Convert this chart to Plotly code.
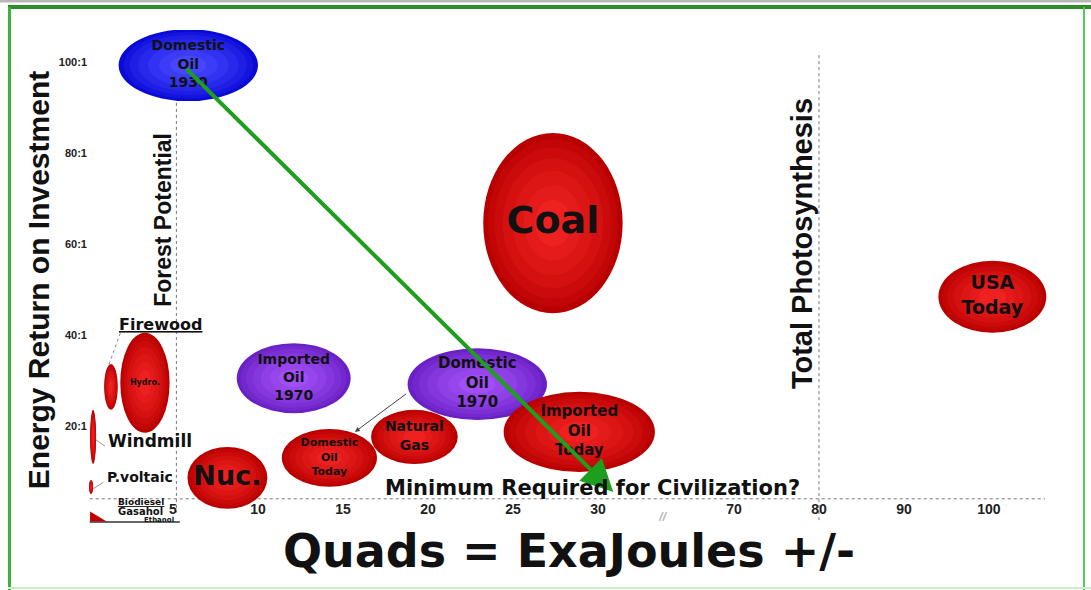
import plotly.graph_objects as go

# ---------------- data ----------------
sources = ["Domestic Oil 1930", "Coal", "USA Today", "Imported Oil 1970", "Domestic Oil 1970",
           "Imported Oil Today", "Natural Gas", "Domestic Oil Today", "Nuc.", "Hydro.",
           "Firewood", "Windmill", "P.voltaic"]
bubble_labels = ["Domestic<br>Oil<br>1930", "Coal", "USA<br>Today", "Imported<br>Oil<br>1970",
                 "Domestic<br>Oil<br>1970", "Imported<br>Oil<br>Today", "Natural<br>Gas",
                 "Domestic<br>Oil<br>Today", "Nuc.", "Hydro.", "", "", ""]
quads = [5.9, 27.35, 100.4, 12.1, 22.9, 28.9, 19.2, 14.2, 8.2, 3.35, 1.35, 0.3, 0.18]
eroi = [99.3, 64.6, 48.4, 30.5, 29.2, 18.7, 17.6, 13.0, 8.6, 29.5, 28.6, 17.6, 6.6]
# bubble extent (axis units: display quads wide, EROI tall)
bubble_w = [8.2, 8.2, 6.35, 6.7, 8.2, 8.9, 5.1, 5.6, 4.7, 2.9, 0.8, 0.35, 0.24]
bubble_h = [15.8, 39.6, 15.8, 15.4, 15.8, 17.6, 11.9, 12.7, 13.6, 22.0, 10.1, 11.9, 3.1]
bubble_group = ["blue", "red", "red", "purple", "purple", "red", "red", "red", "red", "red",
                "red", "red", "red"]

x_tick_quads = [5, 10, 15, 20, 25, 30, 70, 80, 90, 100]
x_tick_text = ["5", "10", "15", "20", "25", "30", "70", "80", "90", "100"]
y_tick_vals = [0, 20, 40, 60, 80, 100]
y_tick_text = ["0:1", "20:1", "40:1", "60:1", "80:1", "100:1"]

min_eroi = 4.0            # Minimum Required for Civilization?
forest_potential = 5.2    # quads
total_photosynthesis = 80 # quads

# ---------------- styles ----------------
label_sizes = [14, 38, 19, 14, 15, 15, 14, 11, 27, 8, 1, 1, 1]
palettes = {
    "red": ((185, 0, 0), (238, 32, 32)),
    "blue": ((10, 10, 215), (70, 70, 255)),
    "purple": ((105, 32, 196), (160, 78, 246)),
}
layer_scale = [1.0, 0.93, 0.84, 0.72, 0.58, 0.42, 0.26]
BOLD = "Liberation Sans"
WIDE = "DejaVu Sans"


def disp(q):
    """Broken x axis: linear up to 30, then 70..100 compressed by half after the break."""
    return q if q <= 30 else 38 + (q - 70) / 2.0


def mix(c0, c1, t):
    return "rgb(%d,%d,%d)" % tuple(round(a + (b - a) * t) for a, b in zip(c0, c1))


fig = go.Figure()
shapes = []

# reference lines (drawn beneath bubbles)
fx = disp(forest_potential)
tx = disp(total_photosynthesis)
line_style = dict(color="#777777", width=1, dash="dot")
shapes.append(dict(type="line", xref="x", yref="y", x0=fx, x1=fx, y0=91, y1=1, line=line_style, layer="below"))
shapes.append(dict(type="line", xref="x", yref="y", x0=tx, x1=tx, y0=101.5, y1=-1.1, line=line_style, layer="below"))
shapes.append(dict(type="line", xref="x", yref="y", x0=0.1, x1=56.3, y0=min_eroi, y1=min_eroi,
                   line=line_style, layer="below"))
shapes.append(dict(type="line", xref="x", yref="y", x0=0.1, x1=5.4, y0=-1.1, y1=-1.1,
                   line=dict(color="#333333", width=1.5), layer="below"))
# leaders
shapes.append(dict(type="line", xref="x", yref="y", x0=1.9, x1=1.2, y0=40.4, y1=33.2,
                   line=dict(color="#888888", width=1, dash="dot"), layer="below"))
shapes.append(dict(type="line", xref="x", yref="y", x0=0.45, x1=1.0, y0=17.0, y1=15.6,
                   line=dict(color="#999999", width=1), layer="below"))
shapes.append(dict(type="line", xref="x", yref="y", x0=0.3, x1=0.9, y0=6.2, y1=7.6,
                   line=dict(color="#999999", width=1), layer="below"))

# bubbles with a simple radial shading
for q, e, w, h, g in zip(quads, eroi, bubble_w, bubble_h, bubble_group):
    cx = disp(q)
    c0, c1 = palettes[g]
    n = len(layer_scale)
    for i, s in enumerate(layer_scale):
        shapes.append(dict(type="circle", xref="x", yref="y",
                           x0=cx - w * s / 2, x1=cx + w * s / 2,
                           y0=e - h * s / 2, y1=e + h * s / 2,
                           fillcolor=mix(c0, c1, i / (n - 1)), line=dict(width=0), layer="below"))

# biofuels wedge
shapes.append(dict(type="path", xref="x", yref="y",
                   path="M 0.12 1.2 L 0.12 -1.0 L 1.1 -1.0 Z",
                   fillcolor="#c00000", line=dict(width=0), layer="below"))

# page frame (screenshot border)
def px_x(p):
    return (p - 88) / 962.0


def px_y(p):
    return (530 - p) / 500.0


shapes.append(dict(type="rect", xref="paper", yref="paper", x0=px_x(-5), x1=px_x(1100),
                   y0=px_y(0), y1=px_y(2.5), fillcolor="#b8b8b8", line=dict(width=0)))
shapes.append(dict(type="line", xref="paper", yref="paper", x0=px_x(8), x1=px_x(1091),
                   y0=px_y(7), y1=px_y(7), line=dict(color="#2c8c2c", width=4)))
shapes.append(dict(type="line", xref="paper", yref="paper", x0=px_x(9.5), x1=px_x(9.5),
                   y0=px_y(7), y1=px_y(590), line=dict(color="#3cb43c", width=3)))
shapes.append(dict(type="line", xref="paper", yref="paper", x0=px_x(1084), x1=px_x(1084),
                   y0=px_y(7), y1=px_y(590), line=dict(color="#5cc45c", width=2)))
shapes.append(dict(type="line", xref="paper", yref="paper", x0=px_x(8), x1=px_x(1091),
                   y0=px_y(588), y1=px_y(588), line=dict(color="#c8eec8", width=2)))

# bubble labels
fig.add_trace(go.Scatter(
    x=[disp(q) for q in quads], y=eroi, mode="text", text=bubble_labels,
    textfont=dict(family=WIDE, size=label_sizes, color="#111111", weight="bold"),
    hoverinfo="skip", showlegend=False))

annotations = []
# big green arrow: Domestic Oil 1930 -> toward minimum
annotations.append(dict(x=30.9, y=5.5, ax=disp(quads[0]) - 0.2, ay=eroi[0] - 0.5,
                        xref="x", yref="y", axref="x", ayref="y", text="", showarrow=True,
                        arrowhead=2, arrowsize=1.6, arrowwidth=4, arrowcolor="#1e9e1e", standoff=0))
# connector Domestic Oil 1970 -> Domestic Oil Today
annotations.append(dict(x=15.7, y=18.7, ax=18.8, ay=27.3, xref="x", yref="y", axref="x", ayref="y",
                        text="", showarrow=True, arrowhead=2, arrowsize=1, arrowwidth=1,
                        arrowcolor="#444444", standoff=0))


def note(x, y, text, size, angle=0, color="#111111", family=BOLD, xanchor="center"):
    annotations.append(dict(x=x, y=y, xref="x", yref="y", text=text, showarrow=False,
                            textangle=angle, xanchor=xanchor,
                            font=dict(family=family, size=size, color=color, weight="bold")))


note(4.41, 65.3, "Forest Potential", 23, angle=-90)
note(42.0, 60.2, "Total Photosynthesis", 29, angle=-90)
note(29.7, 6.3, "Minimum Required for Civilization?", 21, family=WIDE)
note(4.24, 42.3, "<u>Firewood</u>", 16, family=WIDE)
note(3.65, 16.6, "Windmill", 17, family=WIDE)
note(3.06, 8.8, "P.voltaic", 14, family=WIDE)
note(3.1, 3.2, "<u>Biodiesel</u>", 9, family=WIDE)
note(3.1, 1.3, "Gasahol", 10, family=WIDE)
note(4.2, -0.7, "Ethanol", 7, family=WIDE)
note(33.8, 0.2, "<i>//</i>", 13, color="#bbbbbb")

fig.update_layout(
    width=1091, height=590,
    margin=dict(l=88, r=41, t=30, b=60, autoexpand=False),
    paper_bgcolor="white", plot_bgcolor="white",
    shapes=shapes, annotations=annotations, showlegend=False,
    xaxis=dict(range=[0, 56.59], tickvals=[disp(v) for v in x_tick_quads], ticktext=x_tick_text,
               showgrid=False, zeroline=False, showline=False, ticks="",
               ticklabelposition="inside", ticklabelstandoff=10,
               tickfont=dict(family=BOLD, size=14, color="#222222", weight="bold"),
               title=dict(text="Quads = ExaJoules +/-", standoff=18,
                          font=dict(family=WIDE, size=46, color="#111111", weight="bold")),
               automargin=False, fixedrange=True),
    yaxis=dict(range=[-2.857, 107.03], tickvals=y_tick_vals, ticktext=y_tick_text,
               showgrid=False, zeroline=False, showline=False, ticks="",
               tickfont=dict(family="Liberation Sans Narrow, Liberation Sans", size=11,
                             color="#222222", weight="bold"),
               title=dict(text="Energy Return on Investment", standoff=0,
                          font=dict(family=BOLD, size=30, color="#111111", weight="bold")),
               automargin=False, fixedrange=True),
)

fig.write_html("out.html", config={"displayModeBar": False},
               post_script="document.body.style.margin='0px';")
